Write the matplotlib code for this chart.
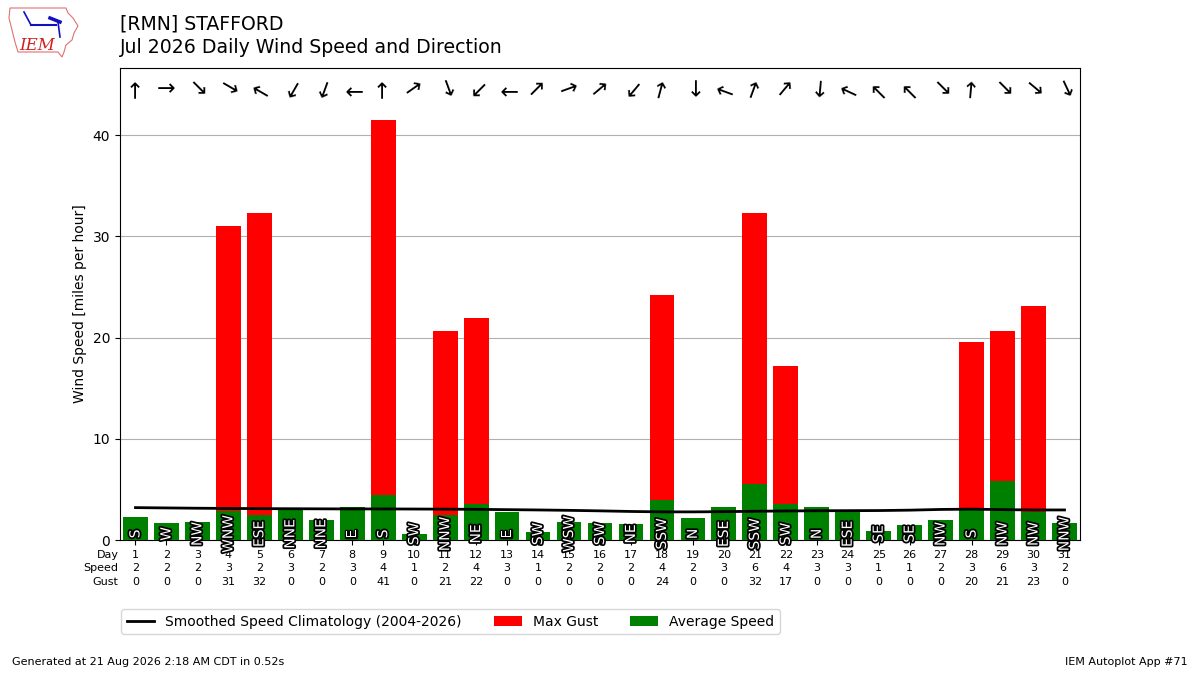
import matplotlib
matplotlib.use("Agg")
import matplotlib.pyplot as plt
import matplotlib.patheffects as PathEffects
from matplotlib.patches import Polygon
import numpy as np

days = list(range(1, 32))
avg_speed = [2.3, 1.7, 1.8, 2.9, 2.5, 3.0, 2.0, 3.3, 4.4, 0.6,
             2.45, 3.6, 2.8, 0.8, 1.8, 1.7, 1.6, 4.0, 2.2, 3.3,
             5.5, 3.6, 3.3, 3.0, 0.9, 1.5, 2.0, 3.2, 5.8, 2.8, 1.7]
max_gust = [0, 0, 0, 31.0, 32.3, 0, 0, 0, 41.5, 0,
            20.7, 21.9, 0, 0, 0, 0, 0, 24.2, 0, 0,
            32.3, 17.2, 0, 0, 0, 0, 0, 19.6, 20.7, 23.1, 0]
speed_lbl = [2, 2, 2, 3, 2, 3, 2, 3, 4, 1, 2, 4, 3, 1, 2, 2,
             2, 4, 2, 3, 6, 4, 3, 3, 1, 1, 2, 3, 6, 3, 2]
gust_lbl = [0, 0, 0, 31, 32, 0, 0, 0, 41, 0, 21, 22, 0, 0, 0, 0,
            0, 24, 0, 0, 32, 17, 0, 0, 0, 0, 0, 20, 21, 23, 0]
dir_txt = ["S", "W", "NW", "WNW", "ESE", "NNE", "NNE", "E", "S", "SW",
           "NNW", "NE", "E", "SW", "WSW", "SW", "NE", "SSW", "N", "ESE",
           "SSW", "SW", "N", "ESE", "SE", "SE", "NW", "S", "NW", "NW", "NNW"]
dir_deg = [180, 270, 315, 300, 120, 30, 20, 90, 180, 235,
           340, 45, 90, 225, 250, 230, 40, 195, 0, 110,
           200, 220, 5, 115, 135, 135, 315, 185, 315, 310, 335]
clim = [3.2, 3.17, 3.14, 3.12, 3.1, 3.09, 3.08, 3.07, 3.07, 3.06,
        3.05, 3.03, 3.0, 2.97, 2.93, 2.88, 2.82, 2.78, 2.78, 2.8,
        2.84, 2.87, 2.89, 2.9, 2.91, 2.95, 3.02, 3.05, 3.0, 2.97, 2.97]

fig = plt.figure(figsize=(12, 6.75), dpi=100)
ax = fig.add_axes([0.1, 0.2, 0.8, 0.7])

ax.plot(days, clim, color="k", lw=2, zorder=4,
        label="Smoothed Speed Climatology (2004-2026)")
ax.bar(days, max_gust, width=0.8, color="r", label="Max Gust", zorder=2)
ax.bar(days, avg_speed, width=0.8, color="g", label="Average Speed", zorder=3)

ymax = 46.7
for d, txt, deg in zip(days, dir_txt, dir_deg):
    t = ax.text(d, 0.6, txt, rotation=90, ha="center", va="center",
                color="white", fontsize=10, zorder=5)
    t.set_path_effects([PathEffects.withStroke(linewidth=2.5, foreground="k")])
    ax.text(d, 44.6, "\u2192", rotation=-90 - deg, rotation_mode="anchor",
            ha="center", va="center", fontsize=16, zorder=5)

ax.set_xlim(0.5, 31.5)
ax.set_ylim(0, ymax)
ax.set_yticks([0, 10, 20, 30, 40])
ax.set_xticks(days)
ax.set_xticklabels(["%s\n%s\n%s" % (d, s, g)
                    for d, s, g in zip(days, speed_lbl, gust_lbl)],
                   fontsize=8, linespacing=1.45)
ax.annotate("Day\nSpeed\nGust", xy=(0, 0), xycoords="axes fraction",
            xytext=(-1, -7), textcoords="offset points",
            ha="right", va="top", fontsize=8, linespacing=1.45)
ax.yaxis.grid(True, color="#b0b0b0", zorder=0)
ax.set_axisbelow(True)
ax.set_ylabel("Wind Speed [miles per hour]")

fig.legend(*ax.get_legend_handles_labels(), ncol=3, columnspacing=2.3,
           loc="center left", bbox_to_anchor=(0.095, 0.079), fontsize=10)

fig.text(0.1, 0.965, "[RMN] STAFFORD", fontsize=13.6, va="center")
fig.text(0.1, 0.93, "Jul 2026 Daily Wind Speed and Direction", fontsize=13.6,
         va="center")
fig.text(0.01, 0.015, "Generated at 21 Aug 2026 2:18 AM CDT in 0.52s",
         fontsize=8)
fig.text(0.99, 0.015, "IEM Autoplot App #71", fontsize=8, ha="right")

# rough IEM logo
iowa = [(10, 8), (66, 8), (68, 13), (73, 18), (78, 26), (74, 33), (72, 40),
        (66, 45), (64, 52), (62, 57), (58, 52), (18, 52), (15, 42), (12, 30),
        (9, 18)]
iowa = [(x / 1200.0, 1 - y / 675.0) for x, y in iowa]
fig.patches.append(Polygon(iowa, closed=True, fill=False, ec="#e07070",
                           lw=0.8, transform=fig.transFigure, figure=fig))
px = lambda x: x / 1200.0
py = lambda y: 1 - y / 675.0
fig.lines.append(plt.Line2D([px(31), px(56)], [py(25), py(25)],
                            color="#1010c0", lw=1.5, transform=fig.transFigure))
fig.lines.append(plt.Line2D([px(24), px(31)], [py(12), py(25)],
                            color="#1010c0", lw=1.2, transform=fig.transFigure))
fig.lines.append(plt.Line2D([px(50), px(60)], [py(18), py(22)],
                            color="#1010c0", lw=2.5, transform=fig.transFigure))
fig.lines.append(plt.Line2D([px(58), px(60)], [py(22), py(37)],
                            color="#1010c0", lw=1.2, transform=fig.transFigure))
fig.text(px(37), py(45), "IEM", color="#d02020", fontsize=12,
         family="DejaVu Serif", style="italic", ha="center", va="center")

fig.savefig("out.png", dpi=100)
